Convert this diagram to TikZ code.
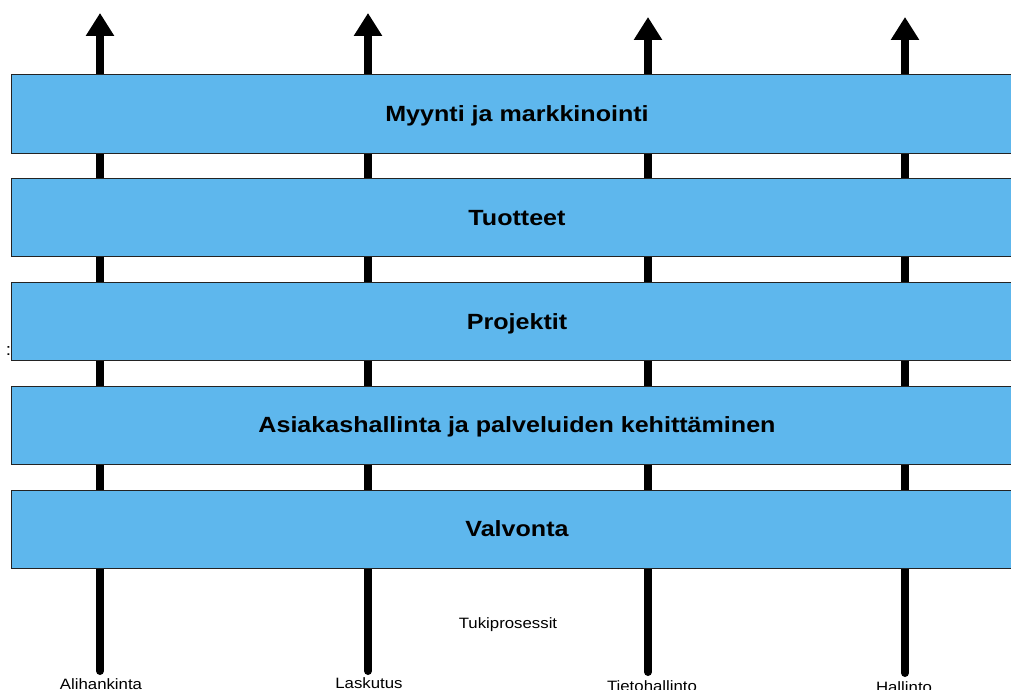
\documentclass[tikz,border=0pt]{standalone}
\usepackage{fontspec}
\setmainfont{Liberation Sans}
\newfontfamily\widefont[FakeStretch=1.12]{Liberation Sans}
\newfontfamily\bandfont[FakeStretch=1.14]{Liberation Sans}
\usetikzlibrary{arrows.meta}
\definecolor{procblue}{RGB}{94,183,237}
\definecolor{procedge}{RGB}{35,35,35}
\tikzset{
  procbox/.style={draw=procedge, line width=1pt, fill=procblue,
    minimum width=1012pt, minimum height=78pt, inner sep=0pt,
    text height=15pt, text depth=0pt,
    font=\bandfont\bfseries\fontsize{22}{26}\selectfont},
  flowarrow/.style={line width=8pt, line cap=round,
    -{Triangle[width=27pt,length=23pt]}},
  sublabel/.style={anchor=base, inner sep=0pt,
    font=\widefont\fontsize{15}{18}\selectfont},
}
\begin{document}
\begin{tikzpicture}[x=1pt,y=-1pt]
\useasboundingbox (0,0) rectangle (1011,690);
\clip (0,0) rectangle (1011,690);

% end points of the support-process arrows
\coordinate (a1) at (100,671);  \coordinate (t1) at (100,13);
\coordinate (a2) at (368,671);  \coordinate (t2) at (368,13);
\coordinate (a3) at (648,672);  \coordinate (t3) at (648,17);
\coordinate (a4) at (905,673);  \coordinate (t4) at (905,17);

% vertical support arrows, behind the process bands
\draw[flowarrow] (a1) -- (t1);
\draw[flowarrow] (a2) -- (t2);
\draw[flowarrow] (a3) -- (t3);
\draw[flowarrow] (a4) -- (t4);

% stray colon at the left margin
\node[sublabel, font=\widefont\fontsize{17}{20}\selectfont] (colon) at (8.5,355) {:};

% core process bands
\node[procbox] (b1) at (517,114)    {Myynti ja markkinointi};
\node[procbox] (b2) at (517,217.75) {Tuotteet};
\node[procbox] (b3) at (517,321.5)  {Projektit};
\node[procbox] (b4) at (517,425.25) {Asiakashallinta ja palveluiden kehittäminen};
\node[procbox] (b5) at (517,529)    {Valvonta};

% support process labels
\node[sublabel] (tuki) at (508,628) {Tukiprosessit};
\node[sublabel] (l1) at (101,689) {Alihankinta};
\node[sublabel] (l2) at (369,688) {Laskutus};
\node[sublabel] (l3) at (652,691) {Tietohallinto};
\node[sublabel] (l4) at (904,692) {Hallinto};
\end{tikzpicture}
\end{document}
